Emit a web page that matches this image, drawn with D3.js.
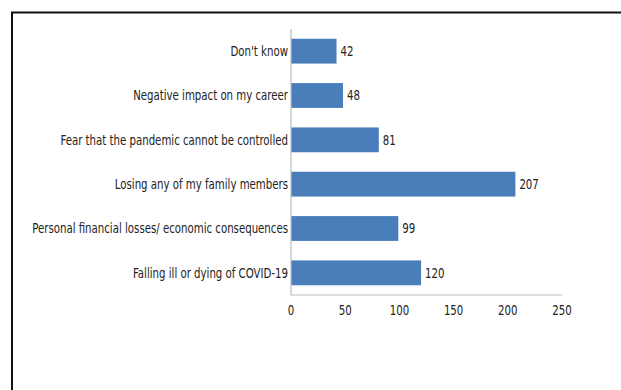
<!DOCTYPE html>
<html lang="en">
<head>
  <meta charset="UTF-8">
  <title>Worries about COVID-19</title>
  <script src="https://d3js.org/d3.v7.min.js"></script>
  <style>
    body { margin: 0; background: #fff; }
    text {
      font-family: "Liberation Sans Narrow", "DejaVu Sans Condensed", "Liberation Sans", sans-serif;
      font-size: 14px;
      fill: #222;
    }
  </style>
</head>
<body>
  <script>
    // data, top to bottom
    const categories = [
      "Don't know",
      "Negative impact on my career",
      "Fear that the pandemic cannot be controlled",
      "Losing any of my family members",
      "Personal financial losses/ economic consequences",
      "Falling ill or dying of COVID-19"
    ];
    const values = [42, 48, 81, 207, 99, 120];
    const xTicks = [0, 50, 100, 150, 200, 250];

    const width = 621;
    const height = 390;
    const squeeze = 0.81;

    const svg = d3.select("body")
      .append("svg")
      .attr("width", width)
      .attr("height", height);

    // frame (only top and left edges are inside the picture)
    svg.append("path")
      .attr("d", `M12 ${height} V12.5 H${width}`)
      .attr("fill", "none")
      .attr("stroke", "#111")
      .attr("stroke-width", 2);

    const x = d3.scaleLinear().domain([0, 250]).range([291, 562]);
    const y = d3.scaleBand().domain(categories).range([29, 295]).paddingInner(0.44).paddingOuter(0.22);

    // bars
    svg.selectAll("rect.bar")
      .data(values)
      .enter()
      .append("rect")
      .attr("class", "bar")
      .attr("x", x(0))
      .attr("y", (d, i) => y(categories[i]))
      .attr("width", d => x(d) - x(0))
      .attr("height", y.bandwidth())
      .attr("fill", "#4a7ebb");

    // axes lines
    svg.append("line")
      .attr("x1", x(0)).attr("x2", x(0))
      .attr("y1", 29).attr("y2", 295)
      .attr("stroke", "#bdbdbd").attr("stroke-width", 1.2);
    svg.append("line")
      .attr("x1", x(0)).attr("x2", x(250))
      .attr("y1", 295).attr("y2", 295)
      .attr("stroke", "#bdbdbd").attr("stroke-width", 1.2);

    // category labels, squeezed like the original
    svg.selectAll("text.cat")
      .data(categories)
      .enter()
      .append("text")
      .attr("class", "cat")
      .attr("transform", d => `translate(288, ${y(d) + y.bandwidth() / 2}) scale(${squeeze}, 1)`)
      .attr("text-anchor", "end")
      .attr("dy", "0.35em")
      .text(d => d);

    // value labels
    svg.selectAll("text.val")
      .data(values)
      .enter()
      .append("text")
      .attr("class", "val")
      .attr("transform", (d, i) => `translate(${x(d) + 4}, ${y(categories[i]) + y.bandwidth() / 2}) scale(${squeeze}, 1)`)
      .attr("dy", "0.35em")
      .text(d => d);

    // tick labels
    svg.selectAll("text.tick")
      .data(xTicks)
      .enter()
      .append("text")
      .attr("class", "tick")
      .attr("transform", d => `translate(${x(d)}, 310) scale(${squeeze}, 1)`)
      .attr("text-anchor", "middle")
      .attr("dy", "0.35em")
      .text(d => d);
  </script>
</body>
</html>
